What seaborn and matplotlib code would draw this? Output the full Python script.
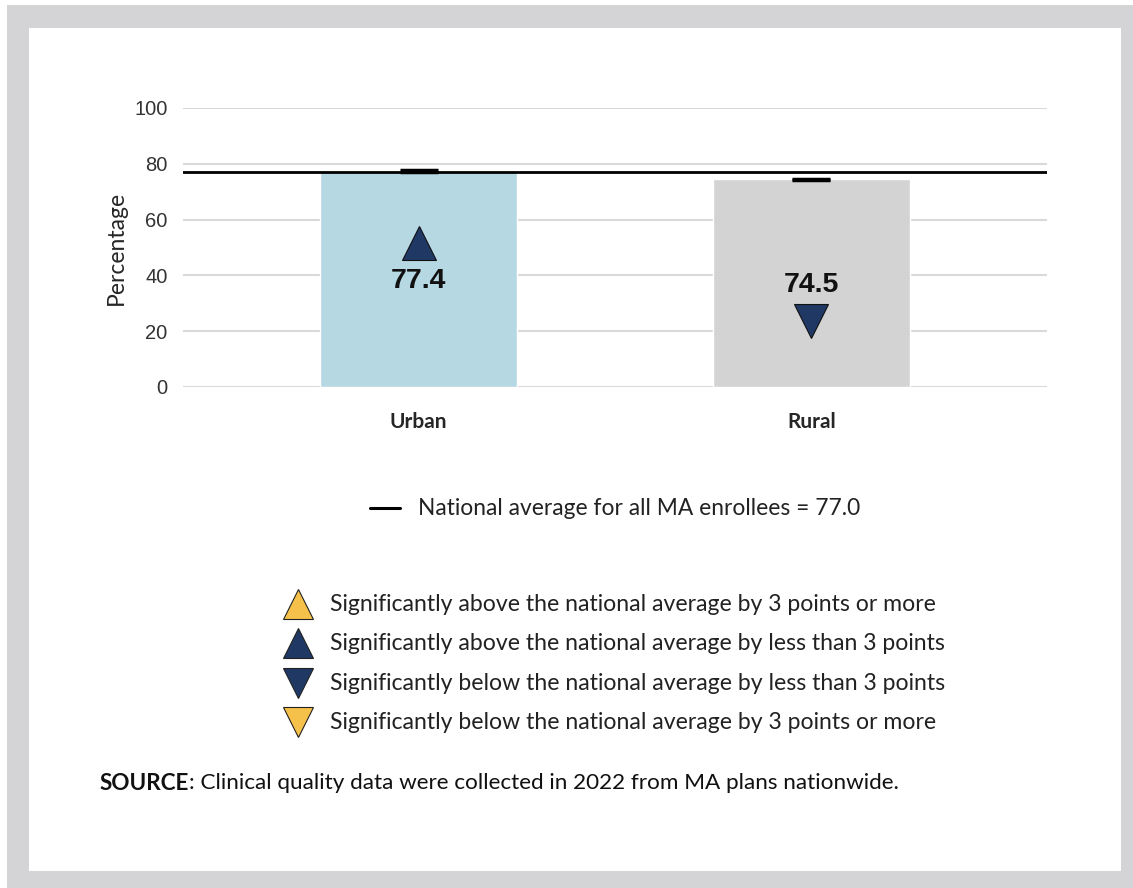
import matplotlib.pyplot as plt
import matplotlib.patches as mpatches
import pandas as pd
import seaborn as sns

# data
areas = ["Urban", "Rural"]
values = [77.4, 74.5]
ci_low = [77.2, 74.3]
ci_high = [77.6, 74.7]
national_avg = 77.0
markers = ["^", "v"]
bar_colors = ["#b6d8e3", "#d3d3d3"]

legend_items = [
    ("^", "#f6c14a", "Significantly above the national average by 3 points or more"),
    ("^", "#1f3864", "Significantly above the national average by less than 3 points"),
    ("v", "#1f3864", "Significantly below the national average by less than 3 points"),
    ("v", "#f6c14a", "Significantly below the national average by 3 points or more"),
]
source_text = "Clinical quality data were collected in 2022 from MA plans nationwide."


def main():
    df = pd.DataFrame({"Area": areas, "Percentage": values})

    sns.set_style("white")
    plt.rcParams["font.family"] = ["Lato", "DejaVu Sans"]

    W, H = 1133, 888
    fig = plt.figure(figsize=(W / 100, H / 100), dpi=100)
    fig.patch.set_facecolor("white")

    # grey frame with white panel
    fig.patches.append(mpatches.Rectangle((7 / W, 0), 1, 1 - 5 / H, transform=fig.transFigure,
                                          facecolor="#d4d4d6", edgecolor="none", zorder=-10))
    fig.patches.append(mpatches.Rectangle((29 / W, 1 - 871 / H), (1121 - 29) / W, (871 - 28) / H,
                                          transform=fig.transFigure, facecolor="white",
                                          edgecolor="none", zorder=-9))

    ax = fig.add_axes([183 / W, 1 - 387 / H, (1047 - 183) / W, (387 - 108) / H])
    ax.set_facecolor("none")

    sns.barplot(data=df, x="Area", y="Percentage", hue="Area", palette=bar_colors,
                saturation=1, width=0.5, legend=False, ax=ax, zorder=2)

    ax.errorbar(range(len(areas)), values,
                yerr=[[v - l for v, l in zip(values, ci_low)], [h - v for v, h in zip(values, ci_high)]],
                fmt="none", ecolor="black", elinewidth=1.5, capsize=14, capthick=2.5, zorder=3)

    ax.axhline(national_avg, color="black", lw=2, zorder=4)

    for i, (v, m) in enumerate(zip(values, markers)):
        if m == "^":
            ax.plot(i, 51.5, marker="^", ms=24, color="#1f3864", mec="#111111", mew=0.8, zorder=5)
            ax.text(i, 38, f"{v}", ha="center", va="center", fontsize=20.5, fontweight="bold",
                    family="Liberation Sans", color="#111111", zorder=5)
        else:
            ax.text(i, 36.5, f"{v}", ha="center", va="center", fontsize=20.5, fontweight="bold",
                    family="Liberation Sans", color="#111111", zorder=5)
            ax.plot(i, 23.5, marker="v", ms=24, color="#1f3864", mec="#111111", mew=0.8, zorder=5)

    ax.set_ylim(0, 100)
    ax.set_xlim(-0.6, 1.6)
    ax.set_yticks([0, 20, 40, 60, 80, 100])
    ax.yaxis.grid(True, color="#d9d9d9", lw=1.5, zorder=0)
    ax.set_axisbelow(True)
    sns.despine(ax=ax, left=True, bottom=True)
    ax.tick_params(axis="y", length=0, pad=11, labelsize=14.5)
    ax.tick_params(axis="x", length=0, pad=18)
    for lab in ax.get_yticklabels():
        lab.set_family("Liberation Sans")
        lab.set_color("#333333")
    for lab in ax.get_xticklabels():
        lab.set_fontweight("bold")
        lab.set_fontsize(15)
    ax.set_xlabel("")
    ax.set_ylabel("Percentage", fontsize=16.5)
    ax.yaxis.set_label_coords((127 - 183) / (1047 - 183), (387 - 248) / (387 - 108))

    # national average key
    fig.add_artist(plt.Line2D([370 / W, 400 / W], [1 - 508 / H] * 2, color="black", lw=2.2))
    fig.text(418 / W, 1 - 508 / H, f"National average for all MA enrollees = {national_avg:.1f}",
             fontsize=16.4, va="center", ha="left", color="#222222")

    # significance key
    ys = [604, 643, 683, 722]
    for (m, c, label), y in zip(legend_items, ys):
        fig.add_artist(plt.Line2D([298 / W], [1 - y / H], marker=m, ms=22, color=c,
                                  mec="#222222", mew=0.8, ls="none"))
        fig.text(330 / W, 1 - y / H, label, fontsize=16.6, va="center", ha="left", color="#222222")

    t = fig.text(100 / W, 1 - 783 / H, "SOURCE", fontsize=16.2, fontweight="bold",
                 va="center", ha="left", color="#111111")
    fig.canvas.draw()
    bb = t.get_window_extent()
    fig.text(bb.x1 / W, 1 - 783 / H, ": " + source_text, fontsize=16.2,
             va="center", ha="left", color="#111111")

    plt.savefig("out.png", dpi=100)


if __name__ == "__main__":
    main()
